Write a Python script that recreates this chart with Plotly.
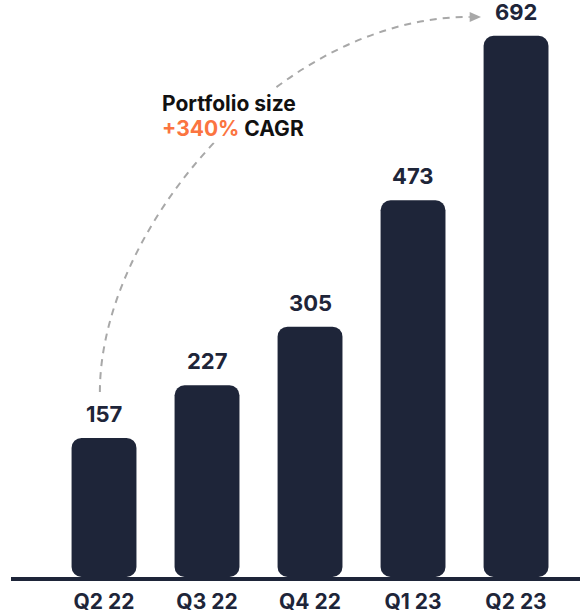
import plotly.graph_objects as go

categories = ["Q2 22", "Q3 22", "Q4 22", "Q1 23", "Q2 23"]
values = [157, 227, 305, 473, 692]
annotation_title = "Portfolio size"
growth_label = "+340%"
growth_suffix = "CAGR"

NAVY = "#1e2539"
ORANGE = "#fb7440"
GREY = "#a8a8a8"
FONT = "Inter"
BASE = -28          # visual baseline of the bars
YMAX = 739.5

xs = list(range(len(categories)))

fig = go.Figure()
fig.add_trace(go.Bar(
    x=xs,
    y=[v - BASE for v in values],
    base=BASE,
    width=0.63,
    marker=dict(color=NAVY, cornerradius=10, line=dict(width=0)),
    hoverinfo="skip",
    showlegend=False,
))

annotations = []
for x, v in zip(xs, values):
    annotations.append(dict(
        x=x, y=v, xref="x", yref="y", text=f"<b>{v}</b>", showarrow=False,
        yanchor="middle", yshift=24,
        font=dict(family=FONT, size=22, color=NAVY, weight=700),
    ))

# dashed growth curve from first to last value
x0, y0 = xs[0] - 0.04, values[0] + 61
x1, y1 = xs[0] - 0.04, values[0] + 279
x2, y2 = xs[0] + 1.71, values[-1] + 25
x3, y3 = xs[-1] - 0.45, values[-1] + 25
fig.add_shape(type="path", xref="x", yref="y",
              path=f"M {x0},{y0} C {x1},{y1} {x2},{y2} {x3},{y3}",
              line=dict(color=GREY, width=2, dash="7px,6px"), layer="above")
tip = xs[-1] - 0.34
fig.add_shape(type="path", xref="x", yref="y",
              path=f"M {x3},{y3 - 6.6} L {tip},{y3} L {x3},{y3 + 6.6} Z",
              fillcolor=GREY, line=dict(color=GREY, width=0), layer="above")

annotations.append(dict(
    x=0.545, y=602, xref="x", yref="y", xanchor="left", yanchor="middle",
    text=f"<b>{annotation_title}</b>", showarrow=False, bgcolor="white",
    font=dict(family=FONT, size=21, color="#111111", weight=700),
))
annotations.append(dict(
    x=0.545, y=569, xref="x", yref="y", xanchor="left", yanchor="middle",
    text=f"<b><span style='color:{ORANGE}'>{growth_label}</span> {growth_suffix}</b>",
    showarrow=False, bgcolor="white",
    font=dict(family=FONT, size=21, color="#111111", weight=700),
))

fig.update_layout(
    width=580, height=614,
    margin=dict(l=11, r=0, t=0, b=31),
    paper_bgcolor="white", plot_bgcolor="white",
    annotations=annotations,
    xaxis=dict(
        range=[-0.903, 4.621], tickmode="array", tickvals=xs, ticktext=categories,
        showgrid=False, zeroline=False, showline=True, linecolor=NAVY, linewidth=3.5,
        ticks="", ticklabelstandoff=3,
        tickfont=dict(family=FONT, size=21, color=NAVY, weight=700),
        fixedrange=True,
    ),
    yaxis=dict(range=[BASE, YMAX], visible=False, fixedrange=True),
)

fig.write_html("out.html")
